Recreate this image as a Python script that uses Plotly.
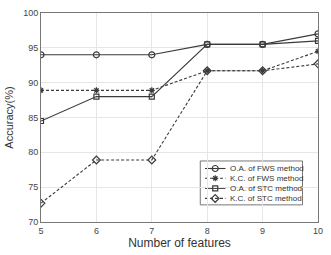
import plotly.graph_objects as go

features = [5, 6, 7, 8, 9, 10]
oa_fws = [94.0, 94.0, 94.0, 95.5, 95.5, 97.0]
kc_fws = [88.9, 88.9, 88.9, 91.7, 91.7, 94.5]
oa_stc = [84.5, 88.0, 88.0, 95.5, 95.5, 96.0]
kc_stc = [72.7, 78.9, 78.9, 91.7, 91.7, 92.7]
series_names = ["O.A. of FWS method", "K.C. of FWS method", "O.A. of STC method", "K.C. of STC method"]

line_c = "#3a3a3a"
font_f = "Liberation Sans, Arial"
dash_pat = "3px,2px"
styles = [
    dict(dash="solid", symbol="circle-open", size=6),
    dict(dash=dash_pat, symbol="asterisk-open", size=5),
    dict(dash="solid", symbol="square-open", size=5),
    dict(dash=dash_pat, symbol="diamond-open", size=6),
]
series = [oa_fws, kc_fws, oa_stc, kc_stc]

fig = go.Figure()
for name, ys, st in zip(series_names, series, styles):
    fig.add_trace(go.Scatter(x=features, y=ys, name=name, mode="lines+markers",
                             line=dict(color=line_c, width=1.1, dash=st["dash"]),
                             marker=dict(symbol=st["symbol"], size=st["size"], color=line_c,
                                         line=dict(width=1.2, color=line_c)),
                             showlegend=False))

# manual compact legend (plot-area fractions)
box = dict(x0=0.575, x1=0.944, y0=0.082, y1=0.292)
rows = [0.256, 0.209, 0.161, 0.113]
lx0, lx1, mx, tx = 0.592, 0.666, 0.629, 0.674
fig.add_shape(type="rect", xref="paper", yref="paper", line=dict(color="#777", width=1),
              fillcolor="white", layer="between", **box)
for name, st, ry in zip(series_names, styles, rows):
    fig.add_shape(type="line", xref="paper", yref="paper", x0=lx0, x1=lx1, y0=ry, y1=ry,
                  line=dict(color=line_c, width=1.1, dash=st["dash"]),
                  layer="between")
    fig.add_trace(go.Scatter(x=[mx], y=[ry], xaxis="x2", yaxis="y2", mode="markers", showlegend=False,
                             hoverinfo="skip",
                             marker=dict(symbol=st["symbol"], size=st["size"], color=line_c,
                                         line=dict(width=1.2, color=line_c))))
    fig.add_annotation(x=tx, y=ry, xref="paper", yref="paper", text=name, showarrow=False,
                       xanchor="left", yanchor="middle",
                       font=dict(family=font_f, size=8, color="#333"))

axis_common = dict(showgrid=True, gridcolor="#e6e6e6", gridwidth=1, showline=True, linecolor="#777",
                   linewidth=1, mirror=True, ticks="", zeroline=False,
                   tickfont=dict(family=font_f, size=9, color="#444"))
fig.update_xaxes(range=[5, 10], tickvals=features,
                 title=dict(text="Number of features", font=dict(family=font_f, size=12, color="#333"), standoff=3),
                 **axis_common)
fig.update_yaxes(range=[70, 100], dtick=5,
                 title=dict(text="Accuracy(%)", font=dict(family=font_f, size=11, color="#333"), standoff=7),
                 **axis_common)
fig.update_layout(
    width=331, height=255, margin=dict(l=37, r=9, t=8, b=28),
    paper_bgcolor="white", plot_bgcolor="white",
    showlegend=False,
    xaxis2=dict(overlaying="x", range=[0, 1], visible=False),
    yaxis2=dict(overlaying="y", range=[0, 1], visible=False),
)
fig.write_html("out.html")
